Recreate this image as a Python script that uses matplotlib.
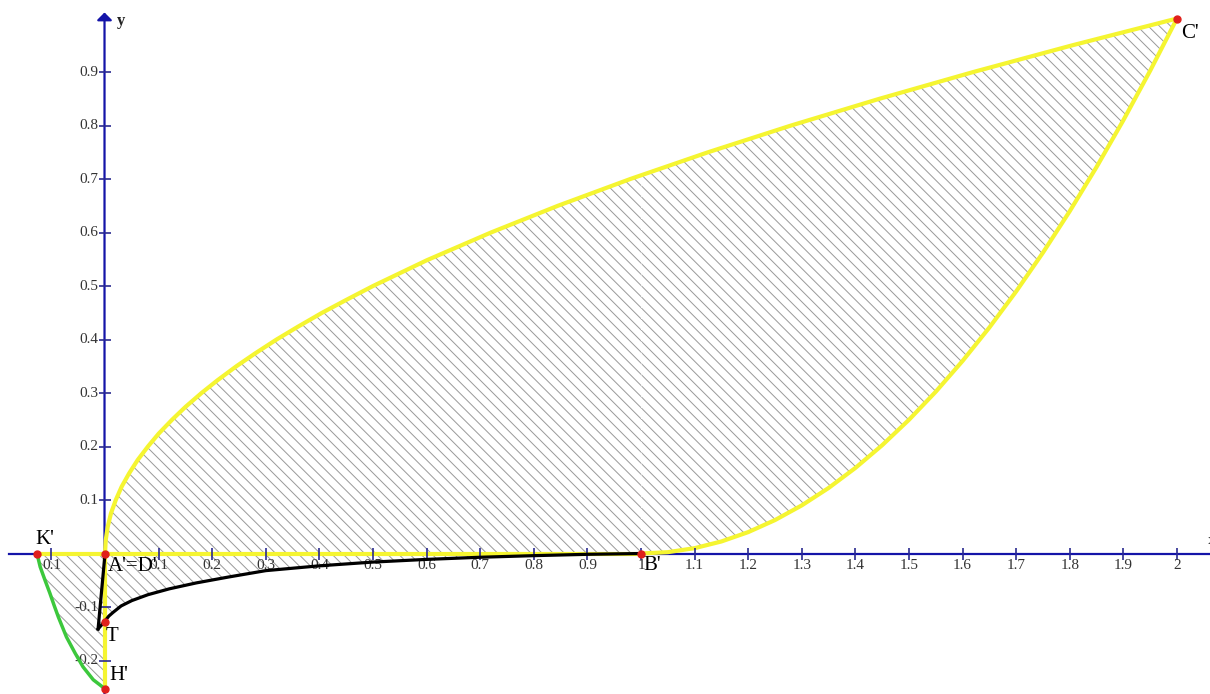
import numpy as np
import matplotlib
matplotlib.use("Agg")
import matplotlib.pyplot as plt

plt.rcParams['hatch.linewidth'] = 0.7

# upper yellow curve A' -> C'
upper_x = [0, 0.00125, 0.005, 0.011, 0.02, 0.031, 0.045, 0.061, 0.08, 0.1, 0.125,
           0.15, 0.18, 0.21, 0.245, 0.28, 0.32, 0.36, 0.405, 0.45, 0.5,
           0.6, 0.72, 0.845, 0.98, 1.125, 1.28, 1.445, 1.62, 1.805, 2.0]
upper_y = [0, 0.025, 0.05, 0.075, 0.1, 0.125, 0.15, 0.175, 0.2, 0.224, 0.25,
           0.274, 0.3, 0.324, 0.35, 0.374, 0.4, 0.424, 0.45, 0.474, 0.5,
           0.548, 0.6, 0.65, 0.7, 0.75, 0.8, 0.85, 0.9, 0.95, 1.0]

# lower yellow curve B' -> C'
right_x = [1.0, 1.05, 1.1, 1.15, 1.2, 1.25, 1.3, 1.35, 1.4, 1.45, 1.5, 1.55,
           1.6, 1.65, 1.7, 1.75, 1.8, 1.85, 1.9, 1.95, 2.0]
right_y = [0.0, 0.0025, 0.01, 0.0225, 0.04, 0.0625, 0.09, 0.1225, 0.16, 0.2025,
           0.25, 0.3025, 0.36, 0.4225, 0.49, 0.5625, 0.64, 0.7225, 0.81, 0.9025, 1.0]

# black curve (tip -> T -> B')
black_x = [-0.013, -0.006, 0.0, 0.007, 0.015, 0.03, 0.05, 0.08, 0.12, 0.17, 0.23,
           0.3, 0.4, 0.5, 0.6, 0.7, 0.8, 0.9, 1.0]
black_y = [-0.141, -0.133, -0.126, -0.117, -0.11, -0.098, -0.088, -0.077, -0.066,
           -0.055, -0.044, -0.032, -0.023, -0.016, -0.011, -0.007, -0.004, -0.0015, 0.0]

# green curve K' -> H'
green_x = [-0.127, -0.121, -0.112, -0.103, -0.095, -0.087, -0.072, -0.056, -0.041,
           -0.022, 0.0]
green_y = [0.0, -0.025, -0.05, -0.074, -0.097, -0.119, -0.156, -0.186, -0.212,
           -0.236, -0.253]

# named points
pt_names = ["K'", "A'=D'", "T", "H'", "B'", "C'"]
pt_x = [-0.127, 0.0, 0.0, 0.0, 1.0, 2.0]
pt_y = [0.0, 0.0, -0.1275, -0.253, 0.0, 1.0]
pt_offsets = [(-1.5, 3, 'left', 'bottom'), (2, -2.5, 'left', 'top'),
              (0.5, -3.5, 'left', 'top'), (3, 3, 'left', 'bottom'),
              (1.5, -1.5, 'left', 'top'), (3, -4, 'left', 'top')]

xticks = [-0.1, 0.1, 0.2, 0.3, 0.4, 0.5, 0.6, 0.7, 0.8, 0.9, 1.0,
          1.1, 1.2, 1.3, 1.4, 1.5, 1.6, 1.7, 1.8, 1.9, 2.0]
xtick_labels = ["0.1", "0.1", "0.2", "0.3", "0.4", "0.5", "0.6", "0.7", "0.8", "0.9", "1",
                "1.1", "1.2", "1.3", "1.4", "1.5", "1.6", "1.7", "1.8", "1.9", "2"]
yticks = [-0.2, -0.1, 0.1, 0.2, 0.3, 0.4, 0.5, 0.6, 0.7, 0.8, 0.9]
ytick_labels = ["-0.2", "-0.1", "0.1", "0.2", "0.3", "0.4", "0.5", "0.6", "0.7", "0.8", "0.9"]

YELLOW = "#f5f531"
BLUE = "#1414a8"
RED = "#e0201c"
GREEN = "#3cc83c"
HATCH = "#999999"
SERIF = "Liberation Serif"
HATCH_PAT = '\\\\\\'

fig = plt.figure(figsize=(12.1, 6.94), dpi=100)
ax = fig.add_axes([0, 0, 1, 1])
ax.set_xlim(-0.196, 2.0616)
ax.set_ylim(-0.2626, 1.0346)
ax.axis('off')

# hatched regions
main_x = upper_x + right_x[::-1] + [0.0]
main_y = upper_y + right_y[::-1] + [0.0]
ax.fill(main_x, main_y, facecolor='none', edgecolor=HATCH, lw=0, hatch=HATCH_PAT, zorder=1)
below_x = [0.0, 1.0] + black_x[::-1] + [0.0]
below_y = [0.0, 0.0] + black_y[::-1] + [0.0]
ax.fill(below_x, below_y, facecolor='none', edgecolor=HATCH, lw=0, hatch=HATCH_PAT, zorder=1)
left_x = green_x + [0.0, -0.127]
left_y = green_y + [0.0, 0.0]
ax.fill(left_x, left_y, facecolor='none', edgecolor=HATCH, lw=0, hatch=HATCH_PAT, zorder=1)

# faint white line through hatch at x=1
ax.plot([1.0, 1.0], [0.0, 0.705], color='white', lw=0.8, ls=(0, (1, 1)), zorder=2)

# axes
ax.plot([-0.18, 2.07], [0, 0], color=BLUE, lw=1.6, zorder=3)
ax.annotate('', xy=(-0.001, 1.0113), xytext=(-0.001, -0.27),
            arrowprops=dict(arrowstyle='-|>,head_length=0.45,head_width=0.45',
                            color=BLUE, lw=1.6, shrinkA=0, shrinkB=0), zorder=3)
ax.text(0.022, 0.995, "y", fontsize=12, fontweight='bold', family=SERIF,
        ha='left', va='center', color='#222222')
ax.text(2.057, 0.025, "x", fontsize=11, family=SERIF, ha='left', va='center',
        color='#222222')

# yellow boundaries
ax.plot(upper_x, upper_y, color=YELLOW, lw=3, zorder=4, solid_capstyle='round',
        solid_joinstyle='round')
ax.plot(right_x, right_y, color=YELLOW, lw=3, zorder=4, solid_capstyle='round',
        solid_joinstyle='round')
ax.plot([-0.127, 1.0], [0, 0], color=YELLOW, lw=3, zorder=4)
ax.plot([0, 0], [0, -0.253], color=YELLOW, lw=3, zorder=4)

# ticks
ax.plot(xticks, np.zeros(len(xticks)), ls='none', marker='|', ms=8, mew=1.2,
        color='#2a2a90', zorder=5)
ax.plot(np.zeros(len(yticks)), yticks, ls='none', marker='_', ms=9, mew=1.2,
        color='#2a2a90', zorder=5)
for xv, lab in zip(xticks, xtick_labels):
    ax.annotate(lab, (xv, 0), xytext=(0, -4), textcoords='offset points',
                ha='center', va='top', fontsize=11, family=SERIF,
                color='#333333', zorder=6)
for yv, lab in zip(yticks, ytick_labels):
    ax.annotate(lab, (0, yv), xytext=(-5, 0), textcoords='offset points',
                ha='right', va='center', fontsize=11, family=SERIF,
                color='#333333', zorder=6)

# black and green curves
ax.plot([0.0, black_x[0]], [0.0, black_y[0]], color='black', lw=2.3, zorder=6)
ax.plot(black_x, black_y, color='black', lw=2.3, zorder=6, solid_joinstyle='round')
ax.plot(green_x, green_y, color=GREEN, lw=2.5, zorder=6, solid_joinstyle='round')

# points and labels
ax.plot(pt_x, pt_y, ls='none', marker='o', ms=5, color=RED, zorder=8)
for name, xv, yv, (dx, dy, ha, va) in zip(pt_names, pt_x, pt_y, pt_offsets):
    ax.annotate(name, (xv, yv), xytext=(dx, dy), textcoords='offset points',
                ha=ha, va=va, fontsize=15, family=SERIF, color='black', zorder=9)

fig.savefig("out.png", dpi=100)
